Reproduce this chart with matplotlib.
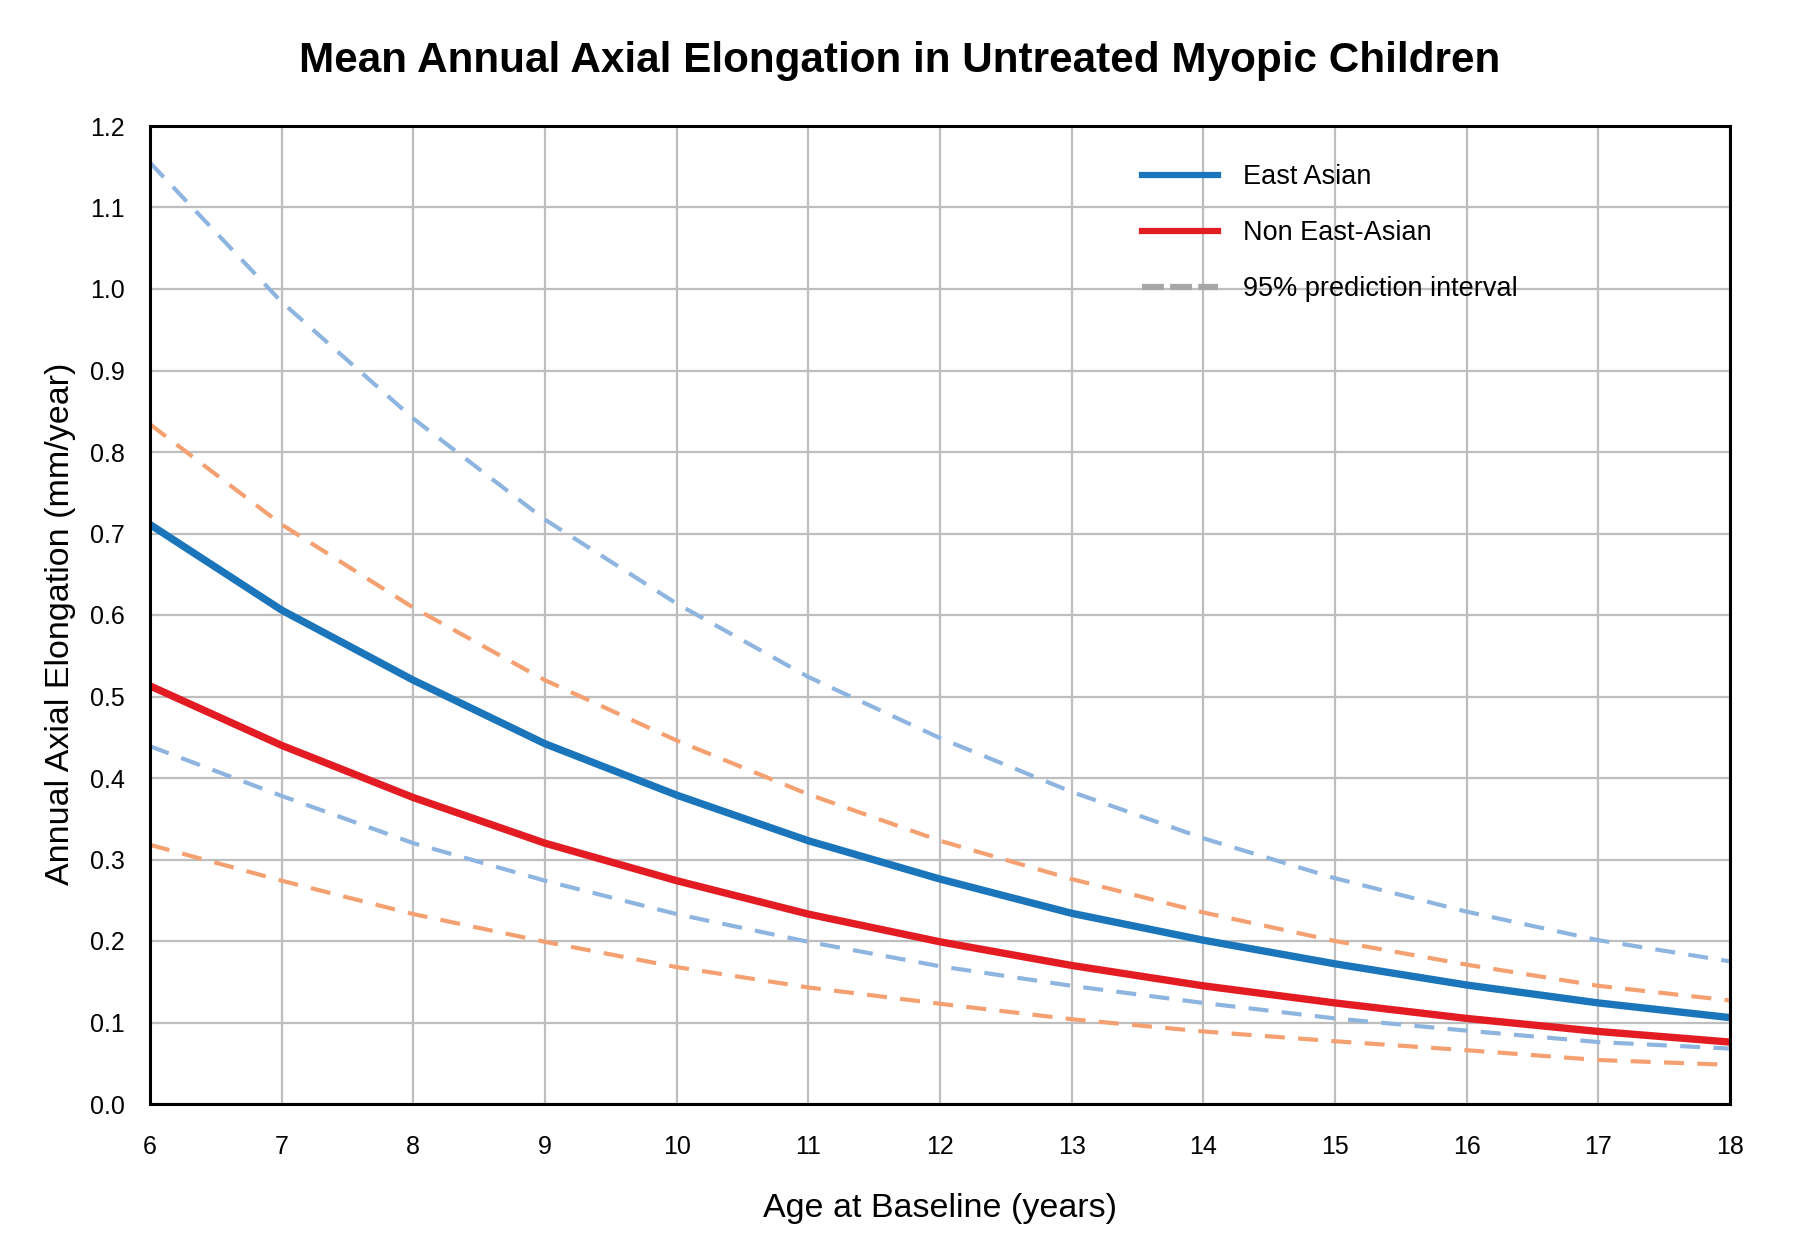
import matplotlib
matplotlib.use("Agg")
import matplotlib.pyplot as plt
from matplotlib.lines import Line2D

plt.rcParams['font.family'] = ['Liberation Sans', 'DejaVu Sans']

ages = [6, 7, 8, 9, 10, 11, 12, 13, 14, 15, 16, 17, 18]
east_mean = [0.711, 0.606, 0.520, 0.442, 0.379, 0.323, 0.276, 0.234, 0.201, 0.172, 0.146, 0.124, 0.106]
non_mean = [0.513, 0.440, 0.376, 0.320, 0.274, 0.233, 0.199, 0.170, 0.145, 0.124, 0.105, 0.089, 0.076]
east_upper = [1.155, 0.984, 0.841, 0.717, 0.614, 0.524, 0.449, 0.383, 0.326, 0.277, 0.236, 0.201, 0.175]
east_lower = [0.439, 0.378, 0.320, 0.274, 0.233, 0.199, 0.169, 0.145, 0.124, 0.105, 0.090, 0.076, 0.068]
non_upper = [0.834, 0.711, 0.609, 0.520, 0.446, 0.380, 0.323, 0.276, 0.235, 0.200, 0.171, 0.145, 0.127]
non_lower = [0.318, 0.274, 0.233, 0.199, 0.168, 0.143, 0.123, 0.104, 0.089, 0.077, 0.066, 0.054, 0.048]

labels = ["East Asian", "Non East-Asian", "95% prediction interval"]
title = "Mean Annual Axial Elongation in Untreated Myopic Children"
xlabel = "Age at Baseline (years)"
ylabel = "Annual Axial Elongation (mm/year)"

C_EAST = "#1A75BB"
C_NON = "#E31B23"
C_EAST_PI = "#8EB4E0"
C_NON_PI = "#F4A070"
C_GRID = "#BEBEBE"
C_LEG_PI = "#A6A6A6"

fig = plt.figure(figsize=(18, 12.5), dpi=100)
ax = fig.add_axes([150/1800, 1 - 1104/1250, (1730-150)/1800, (1104-126)/1250])

dash_lw = 3.0
dash = (0, (4.8, 3.2))
ax.plot(ages, east_upper, color=C_EAST_PI, lw=dash_lw, linestyle=dash, zorder=3)
ax.plot(ages, east_lower, color=C_EAST_PI, lw=dash_lw, linestyle=dash, zorder=3)
ax.plot(ages, non_upper, color=C_NON_PI, lw=dash_lw, linestyle=dash, zorder=3)
ax.plot(ages, non_lower, color=C_NON_PI, lw=dash_lw, linestyle=dash, zorder=3)
ax.plot(ages, east_mean, color=C_EAST, lw=5.3, zorder=4)
ax.plot(ages, non_mean, color=C_NON, lw=5.3, zorder=4)

ax.set_xlim(6, 18)
ax.set_ylim(0, 1.2)
ax.set_xticks(range(6, 19))
ax.set_yticks([i / 10 for i in range(13)])
ax.set_yticklabels([f"{i/10:.1f}" for i in range(13)])
ax.grid(True, color=C_GRID, lw=1.6, zorder=0)
ax.set_axisbelow(True)
ax.tick_params(axis='both', length=0, labelsize=18)
ax.tick_params(axis='x', pad=22.5)
ax.tick_params(axis='y', pad=18)
for s in ax.spines.values():
    s.set_linewidth(2.2)
    s.set_color("black")
    s.set_zorder(5)

ax.set_xlabel(xlabel, fontsize=24.5, labelpad=24)
ax.set_ylabel(ylabel, fontsize=24.5, labelpad=10.5)
ax.yaxis.label.set_y(0.4906)
fig.suptitle(title, fontsize=30.4, fontweight='bold', y=1 - 61/1250, va='center')

handles = [
    Line2D([0], [0], color=C_EAST, lw=4.5),
    Line2D([0], [0], color=C_NON, lw=4.5),
    Line2D([0], [0], color=C_LEG_PI, lw=4.5, linestyle=(0, (3.5, 1.0))),
]
ax.legend(handles, labels, loc='upper left', bbox_to_anchor=(0.6226, 0.969),
          frameon=False, fontsize=19.5, handlelength=2.8, handletextpad=0.93,
          labelspacing=1.1, borderpad=0.3, borderaxespad=0)

fig.savefig("out.png", dpi=100)
